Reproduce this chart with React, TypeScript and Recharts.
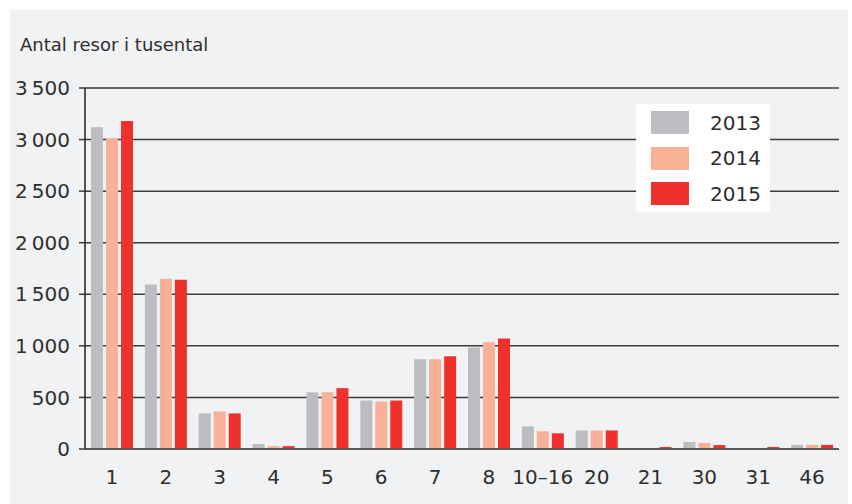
import { BarChart, Bar, XAxis, YAxis, CartesianGrid } from "recharts";

const categories = ["1", "2", "3", "4", "5", "6", "7", "8", "10–16", "20", "21", "30", "31", "46"];
const trips2013 = [3120, 1595, 345, 48, 550, 470, 870, 985, 220, 180, 0, 68, 0, 40];
const trips2014 = [3015, 1650, 365, 28, 550, 460, 870, 1035, 172, 180, 0, 58, 0, 40];
const trips2015 = [3180, 1642, 345, 28, 590, 470, 900, 1072, 152, 180, 20, 38, 20, 40];
const yTicks = [0, 500, 1000, 1500, 2000, 2500, 3000, 3500];

const series = [
  { key: "y2013", name: "2013", color: "#bcbdc0" },
  { key: "y2014", name: "2014", color: "#f8b096" },
  { key: "y2015", name: "2015", color: "#ee312c" },
];

const data = categories.map((cat, i) => ({
  cat,
  y2013: trips2013[i],
  y2014: trips2014[i],
  y2015: trips2015[i],
}));

const FONT = "'DejaVu Sans', sans-serif";
const TEXT = "#2e2e2e";

// "3 500" style with a thin space as thousands separator
const fmt = (v: number) => {
  const s = String(v);
  return s.length > 3 ? s.slice(0, -3) + "\u2009" + s.slice(-3) : s;
};

function LegendBox() {
  return (
    <div
      style={{
        position: "absolute",
        left: 636,
        top: 104,
        background: "#fff",
        width: 134,
        height: 108,
        fontFamily: FONT,
      }}
    >
      {series.map((s, i) => (
        <div
          key={s.key}
          style={{
            position: "absolute",
            left: 15,
            top: 7 + i * 35.5,
            display: "flex",
            alignItems: "center",
            height: 23,
          }}
        >
          <div style={{ width: 38, height: 23, background: s.color }} />
          <span style={{ marginLeft: 21, fontSize: 20, color: TEXT }}>{s.name}</span>
        </div>
      ))}
    </div>
  );
}

export default function App() {
  return (
    <div style={{ position: "absolute", left: 0, top: 0, width: 852, height: 504, background: "#fff" }}>
      <div
        style={{
          position: "absolute",
          left: 10,
          top: 10,
          width: 838,
          height: 494,
          background: "#f1f2f4",
        }}
      />
      <div
        style={{
          position: "absolute",
          left: 20,
          top: 34,
          fontFamily: FONT,
          fontSize: 18,
          color: TEXT,
        }}
      >
        Antal resor i tusental
      </div>
      <div style={{ position: "absolute", left: 0, top: 0 }}>
        <BarChart
          width={852}
          height={504}
          data={data}
          margin={{ top: 88, right: 13, left: 10, bottom: 25 }}
          barSize={12}
          barGap={3}
          barCategoryGap={6}
        >
          <CartesianGrid vertical={false} stroke="#3a3a3a" strokeWidth={1.5} />
          <XAxis
            dataKey="cat"
            interval={0}
            tickLine={false}
            axisLine={{ stroke: "#5a5a5a", strokeWidth: 2 }}
            tickMargin={15}
            height={30}
            tick={{ fontFamily: FONT, fontSize: 20, fill: TEXT }}
          />
          <YAxis
            width={75}
            domain={[0, 3500]}
            ticks={yTicks}
            tickFormatter={fmt}
            tickSize={6}
            tickMargin={9}
            axisLine={{ stroke: "#222", strokeWidth: 1.5 }}
            tickLine={{ stroke: "#3a3a3a", strokeWidth: 1.5 }}
            tick={{ fontFamily: FONT, fontSize: 20, fill: TEXT }}
          />
          {series.map((s) => (
            <Bar key={s.key} dataKey={s.key} name={s.name} fill={s.color} isAnimationActive={false} />
          ))}
        </BarChart>
      </div>
      <LegendBox />
    </div>
  );
}
